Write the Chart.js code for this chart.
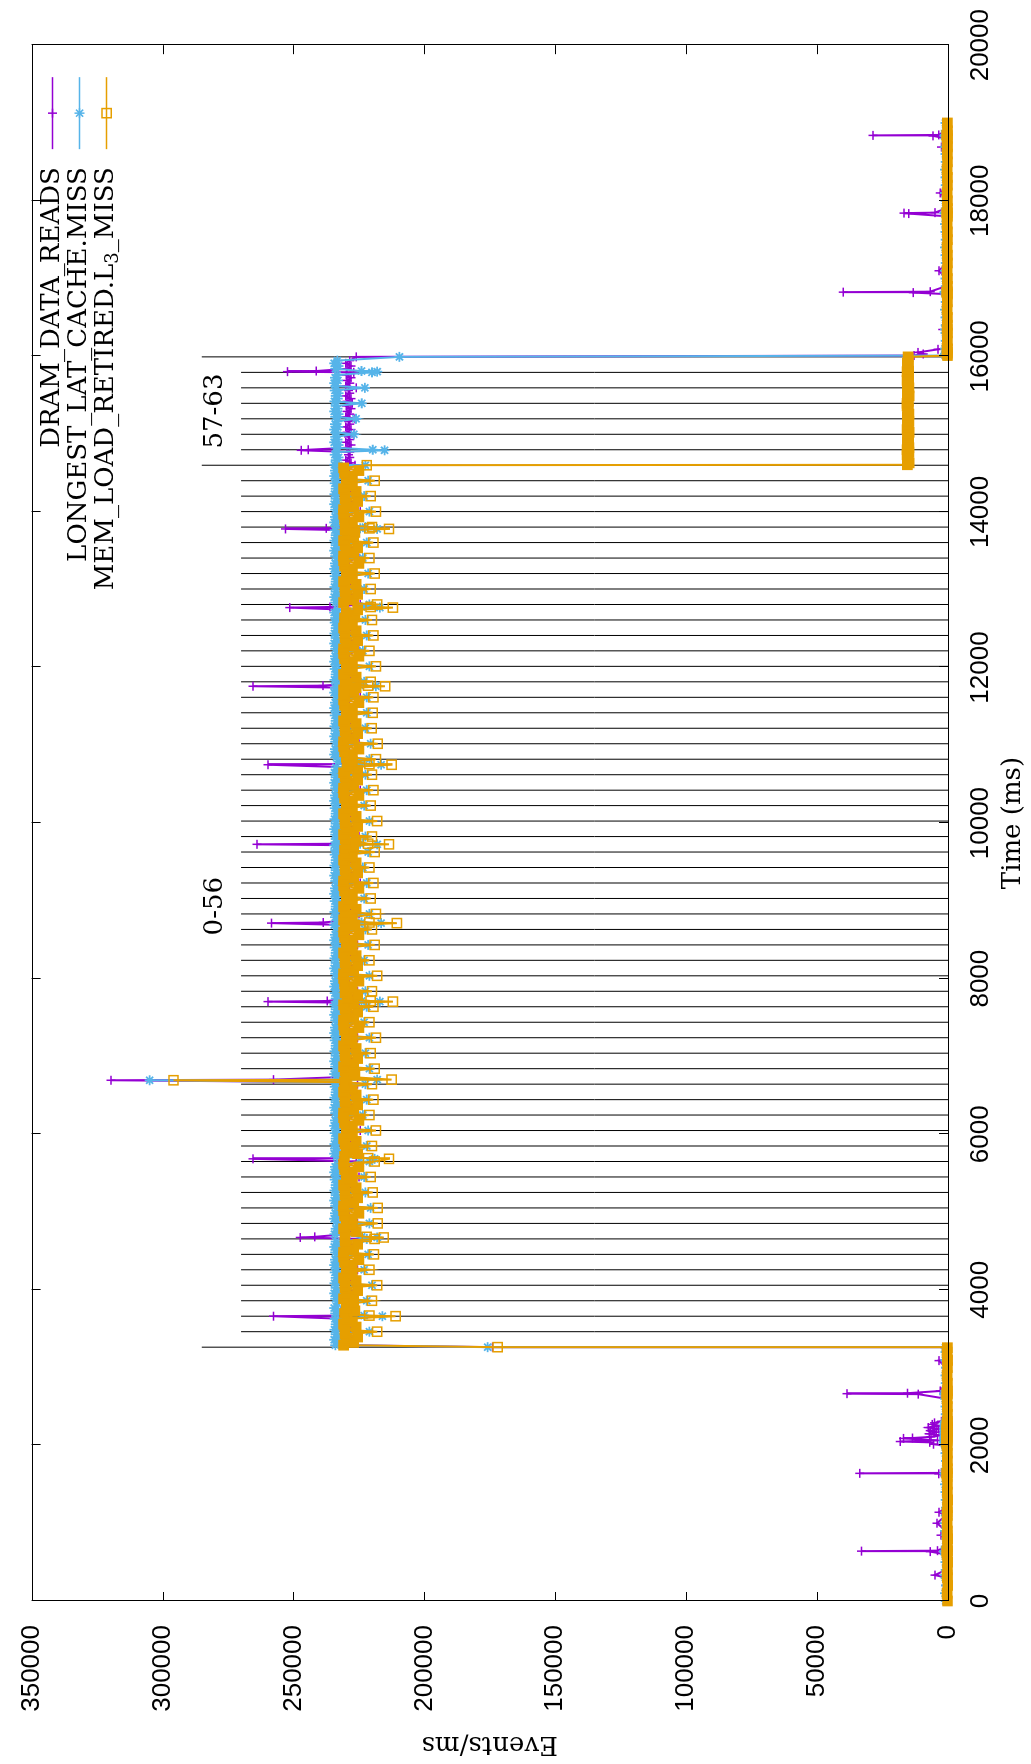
<!DOCTYPE html>
<html><head><meta charset="utf-8">
<script src="https://cdn.jsdelivr.net/npm/chart.js@4/dist/chart.umd.min.js"></script>
<style>
html,body{margin:0;padding:0;background:#fff;}
#page{position:relative;width:1031px;height:1764px;overflow:hidden;background:#fff;}
#rot{position:absolute;left:0;top:0;width:1764px;height:1031px;transform-origin:0 0;transform:translate(0,1764px) rotate(-90deg);}
canvas{display:block;}
</style></head><body>
<div id="page"><div id="rot"><canvas id="c" width="1764" height="1031"></canvas></div></div>
<script>
// ---------------- DATA ----------------
const seriesNames = ['DRAM_DATA_READS', 'LONGEST_LAT_CACHE.MISS', 'MEM_LOAD_RETIRED.L3_MISS'];
const timeTicks = [0,2000,4000,6000,8000,10000,12000,14000,16000,18000,20000];
const eventTicks = [0,50000,100000,150000,200000,250000,300000,350000];

// thread start markers (ms)
const threadLines = [
3263,3462,3661,3860,4059,4258,4456,4655,4854,5053,
5252,5451,5650,5849,6048,6247,6445,6644,6843,7042,
7241,7440,7639,7838,8037,8236,8434,8633,8832,9031,
9230,9429,9628,9827,10026,10225,10423,10622,10821,11020,
11219,11418,11617,11816,12015,12214,12412,12611,12810,13009,
13208,13407,13606,13805,14004,14203,14401,14600,14799,14998,
15197,15396,15595,15794,15993];
const groupNames = ['0-56', '57-63'];
const groupFirst = [0, 57];
const groupLast = [57, 64];
const longLineIdx = [0, 57, 64];
const longLineTop = 285000, shortLineTop = 270000;

// sample times (ms)
const times = [
0,100,200,300,333,400,500,600,635,641, 647,700,800,846,900,1000,1100,1141,1200,1300, 1400,1500,1600,1635,1641,1647,1700,1800,1900,2000,
2015,2040,2050,2065,2090,2095,2110,2130,2150,2170,2190,2210,2230,2250,2270,2290,2310,
2400,2500,2600,2659,2665,2671,2700,2800,2900,3000,3090,3100,3200,3256,
3263,3288,3323,3358,3393,3428,
3462,3487,3522,3557,3592,3627,
3661,3669,3696,3731,3766,3826,
3860,3885,3920,3955,3990,4025,
4059,4084,4119,4154,4189,4224,
4258,4283,4318,4353,4388,4423,
4456,4481,4516,4551,4586,4621,
4655,4673,4681,4715,4750,4785,4820,
4854,4879,4914,4949,4984,5019,
5053,5078,5113,5148,5183,5218,
5252,5277,5312,5347,5382,5417,
5451,5476,5511,5546,5581,5616,
5650,5684,5692,5715,5750,5785,5815,
5849,5874,5909,5944,5979,6014,
6048,6073,6108,6143,6178,6213,
6247,6272,6307,6342,6377,6412,
6445,6470,6505,6540,6575,6610,
6644,6669,6694,6702,6739,6774,6809,
6843,6868,6903,6938,6973,7008,
7042,7067,7102,7137,7172,7207,
7241,7266,7301,7336,7371,7406,
7440,7465,7500,7535,7570,7605,
7639,7664,7690,7705,7713,7745,7780,7815,
7838,7863,7898,7933,7968,8003,
8037,8062,8097,8132,8167,8202,
8236,8261,8296,8331,8366,8401,
8434,8459,8494,8529,8564,8599,
8633,8658,8690,8714,8722,8755,8790,
8832,8857,8892,8927,8962,8997,
9031,9056,9091,9126,9161,9196,
9230,9255,9290,9325,9360,9395,
9429,9454,9489,9524,9559,9594,
9628,9653,9685,9715,9727,9735,9765,9795,
9827,9852,9887,9922,9957,9992,
10026,10051,10086,10121,10156,10191,
10225,10250,10285,10320,10355,10390,
10423,10448,10483,10518,10553,10588,
10622,10647,10682,10717,10750,10758,10790,
10821,10846,10881,10916,10951,10986,
11020,11045,11080,11115,11150,11185,
11219,11244,11279,11314,11349,11384,
11418,11443,11478,11513,11548,11583,
11617,11642,11677,11712,11740,11759,11767,11790,
11816,11841,11876,11911,11946,11981,
12015,12040,12075,12110,12145,12180,
12214,12239,12274,12309,12344,12379,
12412,12437,12472,12507,12542,12577,
12611,12636,12671,12706,12741,12770,12778,
12810,12835,12870,12905,12940,12975,
13009,13034,13069,13104,13139,13174,
13208,13233,13268,13303,13338,13373,
13407,13432,13467,13502,13537,13572,
13606,13631,13666,13701,13736,13765,13781,13789,
13805,13830,13865,13900,13935,13970,
14004,14029,14064,14099,14134,14169,
14203,14228,14263,14298,14333,14368,
14401,14426,14461,14496,14531,14566,
14600,14606,14630,14665,14700,14735,14770,
14792,14799,14825,14860,14895,14930,14965,
14998,15023,15058,15093,15128,15163,
15197,15222,15257,15292,15327,15362,
15396,15421,15456,15491,15526,15561,
15595,15620,15655,15690,15725,15760,
15794,15803,15811,15840,15875,15910,15945,
15993,
16010,16030,16050,16090,16100, 16200,16300,16345,16400,16500, 16600,16700,16800,16819,16825, 16831,16900,17000,17100,17200,
17300,17400,17500,17600,17700, 17800,17835,17841,17847,17900, 18000,18100,18200,18300,18400, 18500,18600,18690,18700,18800,
18834,18840,18846,18900,19000];

// DRAM_DATA_READS (events/ms)
const dramReads = [
800,600,900,700,5000,800,600,1200,6800,33000, 4000,900,700,2700,800,4200,900,3400,700,600, 800,700,900,3500,33700,2500,800,700,900,1500,
5500,7000,18200,4000,17000,13600,6500,3000,7200,4500,6800,3500,7500,4200,6000,5200,2500,
900,700,800,11400,38600,15500,3000,800,700,900,3400,1000,800,900,
174000,229800,228500,230500,229000,230000,
225000,230300,229000,229500,228500,230800,
257600,232000,229800,228500,230500,229000,
226000,229800,228500,230500,229000,230000,
224500,230300,229000,229500,228500,230800,
225500,229500,230500,228800,230000,229200,
226000,229800,228500,230500,229000,230000,
225000,247400,241900,230300,229000,229500,228500,
225500,229500,230500,228800,230000,229200,
226000,229800,228500,230500,229000,230000,
224500,230300,229000,229500,228500,230800,
225000,229500,230500,228800,230000,229200,
226000,265400,231500,229500,230500,228800,230000,
225500,230300,229000,229500,228500,230800,
224500,229500,230500,228800,230000,229200,
226000,229800,228500,230500,229000,230000,
225000,230300,229000,229500,228500,230800,
225500,229800,319700,257600,228500,230500,229000,
226000,229800,228500,230500,229000,230000,
224500,230300,229000,229500,228500,230800,
225500,229500,230500,228800,230000,229200,
226000,229800,228500,230500,229000,230000,
225000,230300,229000,259700,237100,229500,228500,230800,
225500,229500,230500,228800,230000,229200,
226000,229800,228500,230500,229000,230000,
224500,230300,229000,229500,228500,230800,
225500,229500,230500,228800,230000,229200,
226000,229500,230500,258400,238600,228800,230000,
225000,230300,229000,229500,228500,230800,
226000,229500,230500,228800,230000,229200,
224500,229800,228500,230500,229000,230000,
225500,230300,229000,229500,228500,230800,
226000,229800,228500,230500,263900,232000,229000,230000,
225000,229800,228500,230500,229000,230000,
225500,230300,229000,229500,228500,230800,
226000,229500,230500,228800,230000,229200,
224500,229800,228500,230500,229000,230000,
225500,230300,229000,229500,259700,233000,228500,
226000,229500,230500,228800,230000,229200,
225000,229800,228500,230500,229000,230000,
225500,230300,229000,229500,228500,230800,
226000,229500,230500,228800,230000,229200,
224500,229500,230500,228800,230000,265400,238700,229200,
225500,230300,229000,229500,228500,230800,
226000,229500,230500,228800,230000,229200,
225000,229800,228500,230500,229000,230000,
225500,230300,229000,229500,228500,230800,
226000,229800,228500,230500,229000,251400,236000,
224500,229800,228500,230500,229000,230000,
225500,230300,229000,229500,228500,230800,
226000,229500,230500,228800,230000,229200,
225000,229800,228500,230500,229000,230000,
225500,230300,229000,229500,228500,230800,253000,237500,
226000,229500,230500,228800,230000,229200,
224500,229800,228500,230500,229000,230000,
225500,230300,229000,229500,228500,230800,
226000,229500,230500,228800,230000,229200,
226500,229500,228000,230000,228500,229000,228500,
247000,244300,229500,228000,230000,228500,229000,
227000,229500,228000,230000,228500,229000,
226500,230000,228500,229500,228000,229800,
227500,229500,228000,230000,228500,229000,
226000,230000,228500,229500,228000,229800,
227000,252300,241300,229500,228000,230000,228500,
226000,
13000,9500,11500,3800,1000, 800,700,2000,900,800, 700,900,800,13300,40000, 6800,900,800,3400,700,
900,800,700,900,800, 700,15000,16800,5000,900, 800,3000,700,900,800, 700,900,2500,800,700,
5700,28600,3500,900,800];

// LONGEST_LAT_CACHE.MISS (events/ms)
const llcMiss = [
900,1100,800,1000,1200,900,1000,1100,1300,1500, 1000,900,800,1000,1100,1200,900,1000,800,900, 1000,1100,900,1200,1400,1000,900,800,1000,1100,
1300,1400,1600,1200,1500,1400,1300,1200,1400,1300,1200,1400,1300,1200,1300,1200,1100,
900,1000,1100,1300,1500,1200,1000,900,1000,800,1000,900,1000,1000,
175800,234000,232800,234400,233200,233800,
221000,234300,233100,233800,232800,234200,
216000,223000,234000,232800,234400,233200,
222000,234000,232800,234400,233200,233800,
220000,234300,233100,233800,232800,234200,
223000,233600,234400,233000,234100,233300,
221500,234000,232800,234400,233200,233800,
222000,218000,224000,234300,233100,233800,232800,
221000,233600,234400,233000,234100,233300,
220500,234000,232800,234400,233200,233800,
222500,234300,233100,233800,232800,234200,
223000,233600,234400,233000,234100,233300,
221000,219000,224500,233600,234400,233000,234100,
222000,234300,233100,233800,232800,234200,
221500,233600,234400,233000,234100,233300,
223500,234000,232800,234400,233200,233800,
222000,234300,233100,233800,232800,234200,
222500,234000,304900,218000,232800,234400,233200,
221000,234000,232800,234400,233200,233800,
222500,234300,233100,233800,232800,234200,
221000,233600,234400,233000,234100,233300,
223000,234000,232800,234400,233200,233800,
222000,234300,233100,217000,224000,233800,232800,234200,
222500,233600,234400,233000,234100,233300,
221000,234000,232800,234400,233200,233800,
223000,234300,233100,233800,232800,234200,
221500,233600,234400,233000,234100,233300,
222500,233600,234400,216500,224000,233000,234100,
221000,234300,233100,233800,232800,234200,
223000,233600,234400,233000,234100,233300,
222000,234000,232800,234400,233200,233800,
223500,234300,233100,233800,232800,234200,
221500,234000,232800,234400,218000,224500,233200,233800,
222500,234000,232800,234400,233200,233800,
221000,234300,233100,233800,232800,234200,
223000,233600,234400,233000,234100,233300,
222000,234000,232800,234400,233200,233800,
222500,234300,233100,233800,216500,224000,232800,
221000,233600,234400,233000,234100,233300,
220500,234000,232800,234400,233200,233800,
222500,234300,233100,233800,232800,234200,
222000,233600,234400,233000,234100,233300,
222000,233600,234400,233000,234100,218500,224500,233300,
223000,234300,233100,233800,232800,234200,
221000,233600,234400,233000,234100,233300,
223500,234000,232800,234400,233200,233800,
222000,234300,233100,233800,232800,234200,
222500,234000,232800,234400,233200,217000,224000,
221000,234000,232800,234400,233200,233800,
223000,234300,233100,233800,232800,234200,
221500,233600,234400,233000,234100,233300,
223500,234000,232800,234400,233200,233800,
222000,234300,233100,233800,232800,234200,218000,224500,
222500,233600,234400,233000,234100,233300,
221000,234000,232800,234400,233200,233800,
223000,234300,233100,233800,232800,234200,
221500,233600,234400,233000,234100,233300,
222500,234300,233100,233800,232800,234200,233300,
215200,219700,233800,232800,234400,233200,234000,
226900,233600,234400,233000,234100,233300,
226100,234000,232800,234400,233200,233800,
223900,234300,233100,233800,232800,234200,
222700,233600,234400,233000,234100,233300,
220000,218000,224000,234000,232800,234400,233200,
209500,
1000,1100,900,1000,1100, 900,1000,1100,900,1000, 1100,900,1000,1200,1300, 1100,900,1000,1100,900,
1000,1100,900,1000,1100, 900,1200,1300,1100,900, 1000,1100,900,1000,1100, 900,1000,1100,900,1000,
1200,1300,1100,900,1000];

// MEM_LOAD_RETIRED.L3_MISS (events/ms)
const l3Miss = [
200,300,100,250,300,200,150,300,350,400, 250,200,150,300,200,350,250,300,200,150, 250,200,300,350,450,300,200,250,200,300,
400,450,500,350,450,400,350,300,400,350,300,400,350,300,350,300,250,
200,250,300,350,400,300,250,200,300,200,250,200,300,250,
172000,230800,227000,229800,225500,230300,
218000,230300,226000,230800,227500,229500,
211000,221000,230500,226500,229800,227000,
220000,230800,227000,229800,225500,230300,
218000,230300,226000,230800,227500,229500,
221000,229800,227500,230500,225000,230800,
219300,230800,227000,229800,225500,230300,
219000,215500,222000,230300,226000,230800,227500,
217800,229800,227500,230500,225000,230800,
217800,230800,227000,229800,225500,230300,
219700,230300,226000,230800,227500,229500,
220500,229800,227500,230500,225000,230800,
219000,213500,221500,230500,225500,229800,227000,
220000,230300,226000,230800,227500,229500,
218500,229800,227500,230500,225000,230800,
221000,230800,227000,229800,225500,230300,
219500,230300,226000,230800,227500,229500,
220000,230500,295800,212500,229800,226500,230300,
219000,230800,227000,229800,225500,230300,
220500,230300,226000,230800,227500,229500,
218500,229800,227500,230500,225000,230800,
221000,230800,227000,229800,225500,230300,
219500,230800,227000,212000,220500,229500,225500,230300,
220000,229800,227500,230500,225000,230800,
218000,230800,227000,229800,225500,230300,
221000,230300,226000,230800,227500,229500,
219000,229800,227500,230500,225000,230800,
220000,230300,226500,210500,221000,230800,227500,
218500,230300,226000,230800,227500,229500,
220500,229800,227500,230500,225000,230800,
219500,230800,227000,229800,225500,230300,
221000,230300,226000,230800,227500,229500,
219000,230500,227000,229800,213500,221500,226000,230300,
220000,230800,227000,229800,225500,230300,
218000,230300,226000,230800,227500,229500,
220500,229800,227500,230500,225000,230800,
219500,230800,227000,229800,225500,230300,
220000,230800,225500,229500,212500,221000,227500,
218500,229800,227500,230500,225000,230800,
217800,230800,227000,229800,225500,230300,
220100,230300,226000,230800,227500,229500,
219700,229800,227500,230500,225000,230800,
219500,230300,227000,230800,226000,215000,221500,229500,
220500,230300,226000,230800,227500,229500,
218500,229800,227500,230500,225000,230800,
221000,230800,227000,229800,225500,230300,
219500,230300,226000,230800,227500,229500,
220000,230500,226500,229800,225500,212000,220500,
218000,230800,227000,229800,225500,230300,
220500,230300,226000,230800,227500,229500,
219000,229800,227500,230500,225000,230800,
221000,230800,227000,229800,225500,230300,
219500,230800,227000,229500,226500,230300,213500,221000,
220000,229800,227500,230500,225000,230800,
218500,230800,227000,229800,225500,230300,
220500,230300,226000,230800,227500,229500,
219000,229800,227500,230500,225000,230800,
222000,15500,14800,15400,15100,15600,14900,
15200,15600,14900,15300,15500,15000,15400,
15400,14800,15600,15100,15500,14900,
15000,15500,14900,15400,15100,15600,
15600,15100,15400,14800,15500,15000,
14900,15500,15200,15600,15000,15400,
15300,15600,15000,15400,15200,15500,15100,
15200,
200,300,250,200,300, 250,200,300,250,200, 300,250,200,350,400, 300,200,250,300,200,
250,300,200,250,300, 200,350,400,300,200, 250,300,200,250,300, 200,250,300,200,250,
350,400,300,200,250];

if (dramReads.length !== times.length || llcMiss.length !== times.length || l3Miss.length !== times.length) {
  throw new Error('length mismatch ' + times.length + ' ' + dramReads.length + ' ' + llcMiss.length + ' ' + l3Miss.length);
}

// ---------------- STYLE ----------------
const COL_DRAM = '#9400d3', COL_LLC = '#56b4e9', COL_L3 = '#e69f00';
const SERIF = '"DejaVu Serif", "Liberation Serif", serif';
const SANS = '"Liberation Sans", Arial, sans-serif';
const GROUP_LABEL_Y = 280000;

const toXY = ys => times.map((t, i) => ({x: t, y: ys[i]}));
const lineData = [];
threadLines.forEach((t, i) => {
  const top = longLineIdx.includes(i) ? longLineTop : shortLineTop;
  lineData.push({x: t, y: 0}, {x: t, y: top}, {x: t, y: null});
});

// dense overlapping squares read as a solid band; isolated outliers stay hollow
const l3Fill = ctx => {
  const v = ctx.raw && ctx.raw.y;
  return (v < 100000 || (v >= 224000 && v <= 232000)) ? COL_L3 : 'rgba(0,0,0,0)';
};

function drawMarker(ctx, style, x, y, r, color) {
  ctx.save();
  ctx.strokeStyle = color; ctx.lineWidth = 1.5;
  ctx.beginPath();
  if (style === 'cross' || style === 'star') {
    ctx.moveTo(x - r, y); ctx.lineTo(x + r, y);
    ctx.moveTo(x, y - r); ctx.lineTo(x, y + r);
  }
  if (style === 'star') {
    const d = r * Math.SQRT1_2;
    ctx.moveTo(x - d, y - d); ctx.lineTo(x + d, y + d);
    ctx.moveTo(x - d, y + d); ctx.lineTo(x + d, y - d);
  }
  if (style === 'rect') {
    const s = r * Math.SQRT1_2;
    ctx.rect(x - s, y - s, 2 * s, 2 * s);
  }
  ctx.stroke();
  ctx.restore();
}

function drawLegendLabel(ctx, text, rightX, y) {
  const m = text.match(/^(.*L)(3)(_.*)$/);
  const parts = m ? [[m[1], false], [m[2], true], [m[3], false]] : [[text, false]];
  const mainFont = '26px ' + SERIF, subFont = '18px ' + SERIF;
  let total = 0;
  parts.forEach(([s, sub]) => { ctx.font = sub ? subFont : mainFont; total += ctx.measureText(s).width; });
  let x = rightX - total;
  ctx.textAlign = 'left'; ctx.textBaseline = 'middle'; ctx.fillStyle = '#000';
  parts.forEach(([s, sub]) => {
    ctx.font = sub ? subFont : mainFont;
    ctx.fillText(s, x, sub ? y + 7 : y);
    x += ctx.measureText(s).width;
  });
}

const framePlugin = {
  id: 'framePlugin',
  afterDatasetsDraw(chart) {
    const {ctx, chartArea: a, scales: {x, y}} = chart;
    ctx.save();
    ctx.fillStyle = '#000';
    ctx.font = '26px ' + SERIF;
    ctx.textAlign = 'center'; ctx.textBaseline = 'middle';
    groupNames.forEach((name, i) => {
      const tMid = (threadLines[groupFirst[i]] + threadLines[groupLast[i]]) / 2;
      ctx.fillText(name, x.getPixelForValue(tMid), y.getPixelForValue(GROUP_LABEL_Y));
    });
    ctx.strokeStyle = '#000'; ctx.lineWidth = 1;
    ctx.strokeRect(Math.round(a.left) + 0.5, Math.round(a.top) + 0.5, Math.round(a.right - a.left), Math.round(a.bottom - a.top));
    ctx.beginPath();
    x.ticks.forEach(t => {
      const p = Math.round(x.getPixelForValue(t.value)) + 0.5;
      ctx.moveTo(p, a.bottom); ctx.lineTo(p, a.bottom - 9);
      ctx.moveTo(p, a.top); ctx.lineTo(p, a.top + 9);
    });
    y.ticks.forEach(t => {
      const p = Math.round(y.getPixelForValue(t.value)) + 0.5;
      ctx.moveTo(a.left, p); ctx.lineTo(a.left + 9, p);
      ctx.moveTo(a.right, p); ctx.lineTo(a.right - 9, p);
    });
    ctx.stroke();
    for (let i = 0; i < 3; i++) {
      const ds = chart.data.datasets[i];
      const yy = a.top + 21 + 27 * i;
      const x1 = a.right - 104, x2 = a.right - 32;
      ctx.strokeStyle = ds.borderColor; ctx.lineWidth = 1.5;
      ctx.beginPath(); ctx.moveTo(x1, yy); ctx.lineTo(x2, yy); ctx.stroke();
      drawMarker(ctx, ds.pointStyle, (x1 + x2) / 2, yy, ds.pointRadius, ds.borderColor);
      drawLegendLabel(ctx, ds.label, a.right - 122, yy);
    }
    ctx.restore();
  }
};

const common = {borderWidth: 2, pointBorderWidth: 1.5, pointBackgroundColor: 'rgba(0,0,0,0)', fill: false, tension: 0, clip: false, pointHoverRadius: 0};

new Chart(document.getElementById('c'), {
  type: 'line',
  data: {
    datasets: [
      Object.assign({}, common, {label: seriesNames[0], data: toXY(dramReads), borderColor: COL_DRAM, pointBorderColor: COL_DRAM, pointStyle: 'cross', pointRadius: 4.5, order: 3}),
      Object.assign({}, common, {label: seriesNames[1], data: toXY(llcMiss), borderColor: COL_LLC, pointBorderColor: COL_LLC, pointStyle: 'star', pointRadius: 5, pointBorderWidth: 1.8, order: 2}),
      Object.assign({}, common, {label: seriesNames[2], data: toXY(l3Miss), borderColor: COL_L3, pointBorderColor: COL_L3, pointBackgroundColor: l3Fill, pointStyle: 'rect', pointRadius: 6.5, order: 1}),
      {label: 'threads', data: lineData, borderColor: '#000', borderWidth: 1, pointRadius: 0, spanGaps: false, order: 4, fill: false, tension: 0}
    ]
  },
  options: {
    responsive: false,
    devicePixelRatio: 1,
    animation: false,
    events: [],
    layout: {padding: {left: 0, right: 41, top: 24, bottom: 0}},
    plugins: {legend: {display: false}, tooltip: {enabled: false}},
    scales: {
      x: {
        type: 'linear', position: 'bottom', min: 0, max: 20000,
        afterBuildTicks: s => { s.ticks = timeTicks.map(v => ({value: v})); },
        ticks: {font: {family: SANS, size: 26}, color: '#000', padding: 9, maxRotation: 0, autoSkip: false, callback: v => String(v)},
        grid: {display: false}, border: {display: false},
        title: {display: true, text: 'Time (ms)', color: '#000', font: {family: SERIF, size: 26}, padding: {top: 0, bottom: 2}},
        afterFit: s => { s.height = 83; }
      },
      y: {
        type: 'linear', position: 'left', min: 0, max: 350000,
        afterBuildTicks: s => { s.ticks = eventTicks.map(v => ({value: v})); },
        ticks: {font: {family: SANS, size: 26}, color: '#000', padding: 16, autoSkip: false, callback: v => String(v)},
        grid: {display: false}, border: {display: false},
        title: {display: true, text: 'Events/ms', color: '#000', font: {family: SERIF, size: 26}, padding: {top: 5, bottom: 0}},
        afterFit: s => { s.width = 163; }
      }
    }
  },
  plugins: [framePlugin]
});
</script>
</body></html>
